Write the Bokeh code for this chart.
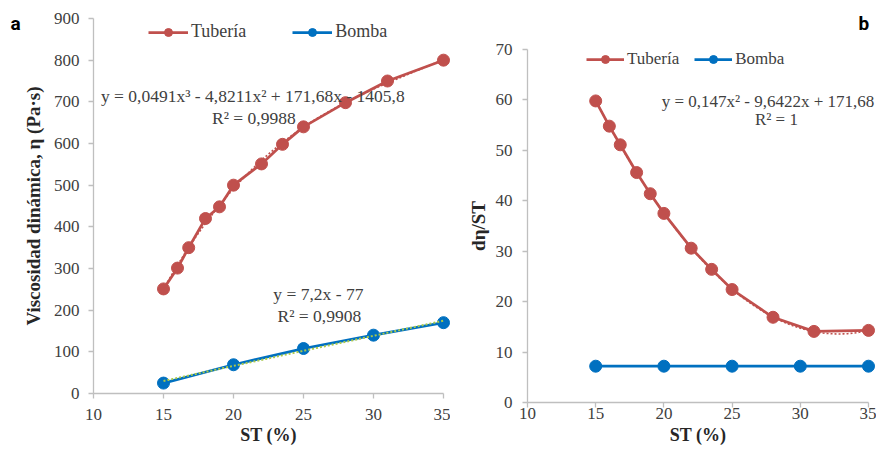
import numpy as np
from bokeh.plotting import figure
from bokeh.models import Range1d, FixedTicker, Legend, LegendItem
from bokeh.core.properties import value
from bokeh.layouts import row
from bokeh.embed import file_html
from bokeh.resources import INLINE

# ---- data ----
st_tub = [15, 16, 16.8, 18, 19, 20, 22, 23.5, 25, 28, 31, 35]
visc_tub = [251, 301, 350, 420, 448, 500, 551, 598, 640, 698, 750, 800]
st_bom = [15, 20, 25, 30, 35]
visc_bom = [25, 69, 108, 140, 170]
deta_tub = [59.8, 54.8, 51.1, 45.6, 41.4, 37.5, 30.6, 26.4, 22.4, 16.9, 14.1, 14.3]
deta_bom = [7.2, 7.2, 7.2, 7.2, 7.2]
x_ticks = [10, 15, 20, 25, 30, 35]
y_ticks_a = [0, 100, 200, 300, 400, 500, 600, 700, 800, 900]
y_ticks_b = [0, 10, 20, 30, 40, 50, 60, 70]
eq_a_tub = ["y = 0,0491x³ - 4,8211x² + 171,68x - 1405,8", "R² = 0,9988"]
eq_a_bom = ["y = 7,2x - 77", "R² = 0,9908"]
eq_b_tub = ["y = 0,147x² - 9,6422x + 171,68", "R² = 1"]
series = ["Tubería", "Bomba"]

RED = "#C0504D"
BLUE = "#0070C0"
GREEN = "#A9C94B"
AXIS = "#BFBFBF"
TICKC = "#404040"
TITLEC = "#262626"
SERIF = "Liberation Serif"


def style(p, xt, yt, xstand, ystand):
    p.xgrid.visible = False
    p.ygrid.visible = False
    p.outline_line_color = None
    for ax in (p.xaxis[0], p.yaxis[0]):
        ax.axis_line_color = AXIS
        ax.axis_line_width = 1.3
        ax.major_tick_line_color = AXIS
        ax.major_tick_line_width = 1.3
        ax.major_tick_out = 5
        ax.major_tick_in = 0
        ax.minor_tick_line_color = None
        ax.major_label_text_font = SERIF
        ax.major_label_text_font_size = "17px"
        ax.major_label_text_color = TICKC
        ax.axis_label_text_font = SERIF
        ax.axis_label_text_font_style = "bold"
        ax.axis_label_text_font_size = "18px"
        ax.axis_label_text_color = TITLEC
    p.yaxis[0].axis_label_text_font_size = "19px"
    p.xaxis[0].ticker = FixedTicker(ticks=xt)
    p.yaxis[0].ticker = FixedTicker(ticks=yt)
    p.xaxis[0].major_label_standoff = xstand
    p.yaxis[0].major_label_standoff = ystand


def trend(x, y, deg):
    c = np.polyfit(x, y, deg)
    xs = np.linspace(min(x), max(x), 120)
    return xs, np.polyval(c, xs)


def eq(p, xs, ys, texts, size):
    p.text(x=xs, y=ys, text=texts, text_font=value(SERIF), text_font_size=value(size),
           text_color=TICKC, text_align="center", text_baseline="middle", level="overlay")


def panel_letter(p, x, y, t):
    p.text(x=[x], y=[y], text=[t], text_font=value("Roboto"), text_font_style="bold",
           text_font_size=value("19px"), text_color="black", text_align="left",
           text_baseline="top", level="overlay")


# ---------------- panel a ----------------
pa = figure(width=450, height=450, output_backend="svg", toolbar_location=None,
            x_range=Range1d(10, 35), y_range=Range1d(0, 900), frame_align=False,
            min_border_left=93, min_border_right=7, min_border_top=18, min_border_bottom=57)
style(pa, x_ticks, y_ticks_a, 10, 9)
pa.xaxis[0].axis_label = "ST (%)"
pa.xaxis[0].axis_label_standoff = 2
pa.yaxis[0].axis_label = "Viscosidad dinámica, η (Pa·s)"
pa.yaxis[0].axis_label_standoff = 7

la1 = pa.line(st_tub, visc_tub, line_color=RED, line_width=2.75, level="overlay")
ca1 = pa.scatter(st_tub, visc_tub, size=12, fill_color=RED, line_color=RED, level="overlay")
la2 = pa.line(st_bom, visc_bom, line_color=BLUE, line_width=2.75, level="overlay")
ca2 = pa.scatter(st_bom, visc_bom, size=12, fill_color=BLUE, line_color=BLUE, level="overlay")
tx, ty = trend(st_tub, visc_tub, 3)
pa.line(tx, ty, line_color=RED, line_width=1.6, line_dash="2 2", level="overlay")
tx, ty = trend(st_bom, visc_bom, 1)
pa.line(tx, ty, line_color=GREEN, line_width=2, line_dash="2 2", level="overlay")

leg_a = Legend(items=[LegendItem(label=series[0], renderers=[la1, ca1]),
                      LegendItem(label=series[1], renderers=[la2, ca2])],
               orientation="horizontal", location=(55, 351), padding=0, margin=0,
               glyph_width=40, glyph_height=20, label_standoff=3, spacing=46,
               label_text_font=SERIF, label_text_font_size="18px", label_text_color=TICKC,
               border_line_color=None, background_fill_alpha=0)
pa.add_layout(leg_a, "center")

eq(pa, [21.38, 21.45], [715.2, 662.4], eq_a_tub, "17.5px")
eq(pa, [26.06, 26.13], [238.8, 186.0], eq_a_bom, "17.5px")
panel_letter(pa, 4.07, 916.8, "a")

# ---------------- panel b ----------------
pb = figure(width=426, height=450, output_backend="svg", toolbar_location=None,
            x_range=Range1d(10, 35), y_range=Range1d(0, 70), frame_align=False,
            min_border_left=77, min_border_right=8, min_border_top=49, min_border_bottom=48)
style(pb, x_ticks, y_ticks_b, 0, 10)
pb.xaxis[0].axis_label = "ST (%)"
pb.xaxis[0].axis_label_standoff = 3
pb.yaxis[0].axis_label = "dη/ST"
pb.yaxis[0].axis_label_standoff = 4

lb1 = pb.line(st_tub, deta_tub, line_color=RED, line_width=2.75, level="overlay")
cb1 = pb.scatter(st_tub, deta_tub, size=12, fill_color=RED, line_color=RED, level="overlay")
lb2 = pb.line(st_bom, deta_bom, line_color=BLUE, line_width=2.75, level="overlay")
cb2 = pb.scatter(st_bom, deta_bom, size=12, fill_color=BLUE, line_color=BLUE, level="overlay")
tx, ty = trend(st_tub, deta_tub, 2)
pb.line(tx, ty, line_color=RED, line_width=1.6, line_dash="2 2", level="overlay")

leg_b = Legend(items=[LegendItem(label=series[0], renderers=[lb1, cb1]),
                      LegendItem(label=series[1], renderers=[lb2, cb2])],
               orientation="horizontal", location=(59, 333), padding=0, margin=0,
               glyph_width=38, glyph_height=20, label_standoff=3, spacing=15,
               label_text_font=SERIF, label_text_font_size="17px", label_text_color=TICKC,
               border_line_color=None, background_fill_alpha=0)
pb.add_layout(leg_b, "center")

eq(pb, [27.63, 28.25], [59.69, 56.2], eq_b_tub, "17px")
panel_letter(pb, 34.27, 77.5, "b")

layout = row(pa, pb)
open("out.html", "w").write(file_html(layout, INLINE))
